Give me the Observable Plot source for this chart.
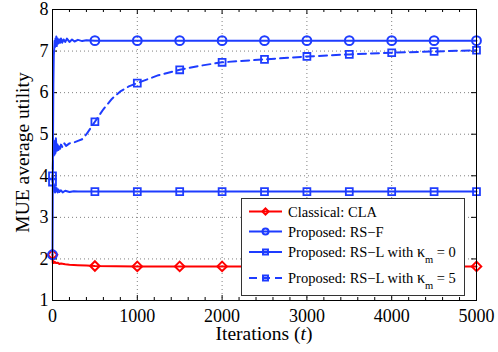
<!DOCTYPE html>
<html><head><meta charset="utf-8">
<script src="https://cdn.jsdelivr.net/npm/d3@7"></script>
<script src="https://cdn.jsdelivr.net/npm/@observablehq/plot@0.6"></script>
<style>body{margin:0;background:#fff} svg{display:block}</style>
</head><body><div id="chart"></div><script>
// ---- data ----
const claT = [0,3,8,15,25,40,60,80,100,150,200,300,400,500,1000,1500,2000,2500,3000,3500,4000,4500,5000];
const claV = [2.1,1.9,1.95,1.9,1.93,1.9,1.91,1.88,1.89,1.87,1.86,1.85,1.84,1.83,1.82,1.82,1.82,1.82,1.82,1.82,1.82,1.82,1.82];

const rsfT = [0,5,10,15,20,25,30,35,40,45,50,60,70,80,90,100,115,130,150,170,200,230,260,300,350,400,500,1000,1500,2000,2500,3000,3500,4000,4500,5000];
const rsfV = [2.1,4.5,6.2,6.9,7.05,7.25,7.1,7.3,7.15,7.35,7.12,7.3,7.18,7.28,7.2,7.3,7.2,7.28,7.22,7.3,7.22,7.28,7.23,7.27,7.24,7.26,7.25,7.25,7.25,7.25,7.25,7.25,7.25,7.25,7.25,7.25];

const rsl0T = [0,5,10,15,20,25,30,35,40,50,60,70,80,100,120,150,200,250,300,500,1000,1500,2000,2500,3000,3500,4000,4500,5000];
const rsl0V = [4.0,3.95,3.7,3.8,3.62,3.75,3.6,3.72,3.62,3.7,3.6,3.67,3.61,3.65,3.6,3.64,3.61,3.63,3.62,3.62,3.62,3.62,3.62,3.62,3.62,3.62,3.62,3.62,3.62];

const rsl5T = [0,5,10,15,20,25,30,35,40,50,60,70,80,90,100,120,140,160,200,250,300,350,400,450,500,600,700,800,900,1000,1250,1500,1750,2000,2500,3000,3500,4000,4500,5000];
const rsl5V = [3.85,4.3,4.6,4.45,4.8,4.5,4.85,4.55,4.9,4.6,4.8,4.62,4.75,4.65,4.75,4.68,4.78,4.72,4.78,4.8,4.84,4.88,5.0,5.15,5.3,5.6,5.85,6.03,6.15,6.23,6.42,6.55,6.65,6.73,6.8,6.87,6.92,6.96,6.99,7.02];

const markerT = [0,500,1000,1500,2000,2500,3000,3500,4000,4500,5000];
const claM  = [2.1,1.83,1.82,1.82,1.82,1.82,1.82,1.82,1.82,1.82,1.82];
const rsfM  = [2.1,7.25,7.25,7.25,7.25,7.25,7.25,7.25,7.25,7.25,7.25];
const rsl0M = [4.0,3.62,3.62,3.62,3.62,3.62,3.62,3.62,3.62,3.62,3.62];
const rsl5M = [3.85,5.3,6.23,6.55,6.73,6.8,6.87,6.92,6.96,6.99,7.02];

const xTicks = [0,1000,2000,3000,4000,5000];
const yTicks = [1,2,3,4,5,6,7,8];
const xMinor = [200,400,600,800,1200,1400,1600,1800,2200,2400,2600,2800,3200,3400,3600,3800,4200,4400,4600,4800];

const seriesNames = ["Classical: CLA","Proposed: RS\u2212F","Proposed: RS\u2212L with ","Proposed: RS\u2212L with "];
const seriesTail = ["","", " = 0", " = 5"];
const xLabel = "Iterations (";
const yLabel = "MUE average utility";

// ---- build ----
const RED = "#ff0000", BLUE = "#1e3cff";
const W = 498, H = 352, mL = 52, mR = 22, mT = 9, mB = 52;
const iw = W - mL - mR, ih = H - mT - mB;
const toRows = (t, v) => t.map((d, i) => ({t: d, v: v[i]}));
const cla = toRows(claT, claV), rsf = toRows(rsfT, rsfV), rsl0 = toRows(rsl0T, rsl0V), rsl5 = toRows(rsl5T, rsl5V);
const claMk = toRows(markerT, claM), rsfMk = toRows(markerT, rsfM), rsl0Mk = toRows(markerT, rsl0M), rsl5Mk = toRows(markerT, rsl5M);
const font = "'Liberation Serif', 'Times New Roman', serif";

const svg = Plot.plot({
  width: W, height: H,
  marginLeft: mL, marginRight: mR, marginTop: mT, marginBottom: mB,
  style: {fontFamily: font, fontSize: "18px", background: "#fff", color: "#000"},
  x: {domain: [0, 5000]},
  y: {domain: [1, 8]},
  marks: [
    Plot.gridX(xTicks.slice(1, -1), {stroke: "#808080", strokeOpacity: 1, strokeDasharray: "1,3"}),
    Plot.gridY(yTicks.slice(1, -1), {stroke: "#808080", strokeOpacity: 1, strokeDasharray: "1,3"}),
    Plot.axisX(xTicks, {tickSize: 0, tickPadding: 9, fontSize: 18, label: null, tickFormat: d => String(d)}),
    Plot.axisY(yTicks, {tickSize: 0, tickPadding: 4, fontSize: 18, label: null, tickFormat: d => String(d)}),
    // inward ticks
    Plot.tickX(xTicks, {x: d => d, insetTop: ih - 5, stroke: "#000"}),
    Plot.tickX(xTicks, {x: d => d, insetBottom: ih - 5, stroke: "#000"}),
    Plot.tickX(xMinor, {x: d => d, insetTop: ih - 3, stroke: "#000"}),
    Plot.tickX(xMinor, {x: d => d, insetBottom: ih - 3, stroke: "#000"}),
    Plot.tickY(yTicks, {y: d => d, insetRight: iw - 5, stroke: "#000"}),
    Plot.tickY(yTicks, {y: d => d, insetLeft: iw - 5, stroke: "#000"}),
    // series
    Plot.line(cla, {x: "t", y: "v", stroke: RED, strokeWidth: 2}),
    Plot.dot(claMk, {x: "t", y: "v", symbol: "diamond2", r: 4.3, stroke: RED, fill: "none", strokeWidth: 2}),
    Plot.line(rsl0, {x: "t", y: "v", stroke: BLUE, strokeWidth: 2}),
    Plot.dot(rsl0Mk, {x: "t", y: "v", symbol: "square", r: 3.9, stroke: BLUE, fill: "none", strokeWidth: 1.8}),
    Plot.line(rsl5, {x: "t", y: "v", stroke: BLUE, strokeWidth: 2, strokeDasharray: "8,5"}),
    Plot.dot(rsl5Mk, {x: "t", y: "v", symbol: "square", r: 3.9, stroke: BLUE, fill: "none", strokeWidth: 1.8}),
    Plot.line(rsf, {x: "t", y: "v", stroke: BLUE, strokeWidth: 2}),
    Plot.dot(rsfMk, {x: "t", y: "v", symbol: "circle", r: 4.4, stroke: BLUE, fill: "none", strokeWidth: 2}),
    Plot.frame({stroke: "#000", strokeWidth: 1})
  ]
});

const s = d3.select(svg);
// axis labels
const xl = s.append("text").attr("x", 264).attr("y", 340).attr("text-anchor", "middle")
  .attr("font-family", font).attr("font-size", 19.5).attr("fill", "#000");
xl.append("tspan").text(xLabel);
xl.append("tspan").attr("font-style", "italic").text("t");
xl.append("tspan").text(")");
s.append("text").attr("transform", "translate(29,152.5) rotate(-90)").attr("text-anchor", "middle")
  .attr("font-family", font).attr("font-size", 19.5).attr("fill", "#000").text(yLabel);

// legend
const lg = s.append("g");
lg.append("rect").attr("x", 241.5).attr("y", 198.5).attr("width", 223).attr("height", 97)
  .attr("fill", "#fff").attr("stroke", "#333").attr("stroke-width", 1);
const rowsY = [211.5, 231.5, 252, 278];
const cols = [RED, BLUE, BLUE, BLUE];
const syms = [d3.symbolDiamond2, d3.symbolCircle, d3.symbolSquare, d3.symbolSquare];
rowsY.forEach((y, i) => {
  lg.append("line").attr("x1", 249).attr("x2", 282).attr("y1", y).attr("y2", y)
    .attr("stroke", cols[i]).attr("stroke-width", 2)
    .attr("stroke-dasharray", i === 3 ? "8,5" : null);
  const sz = i === 1 ? Math.PI * 3 * 3 : Math.PI * 2.8 * 2.8;
  lg.append("path").attr("d", d3.symbol(syms[i], sz)()).attr("transform", `translate(265.5,${y})`)
    .attr("fill", "none").attr("stroke", cols[i]).attr("stroke-width", 2);
  const t = lg.append("text").attr("x", 288).attr("y", y + 5).attr("text-anchor", "start")
    .attr("font-family", font).attr("font-size", 14.5).attr("fill", "#000");
  t.append("tspan").text(seriesNames[i]);
  if (i >= 2) {
    t.append("tspan").attr("font-size", 16).text("\u03ba");
    t.append("tspan").attr("font-size", 10.5).attr("dy", 6).text("m");
    t.append("tspan").attr("dy", -6).text(seriesTail[i]);
  }
});

document.getElementById("chart").appendChild(svg);
</script></body></html>
